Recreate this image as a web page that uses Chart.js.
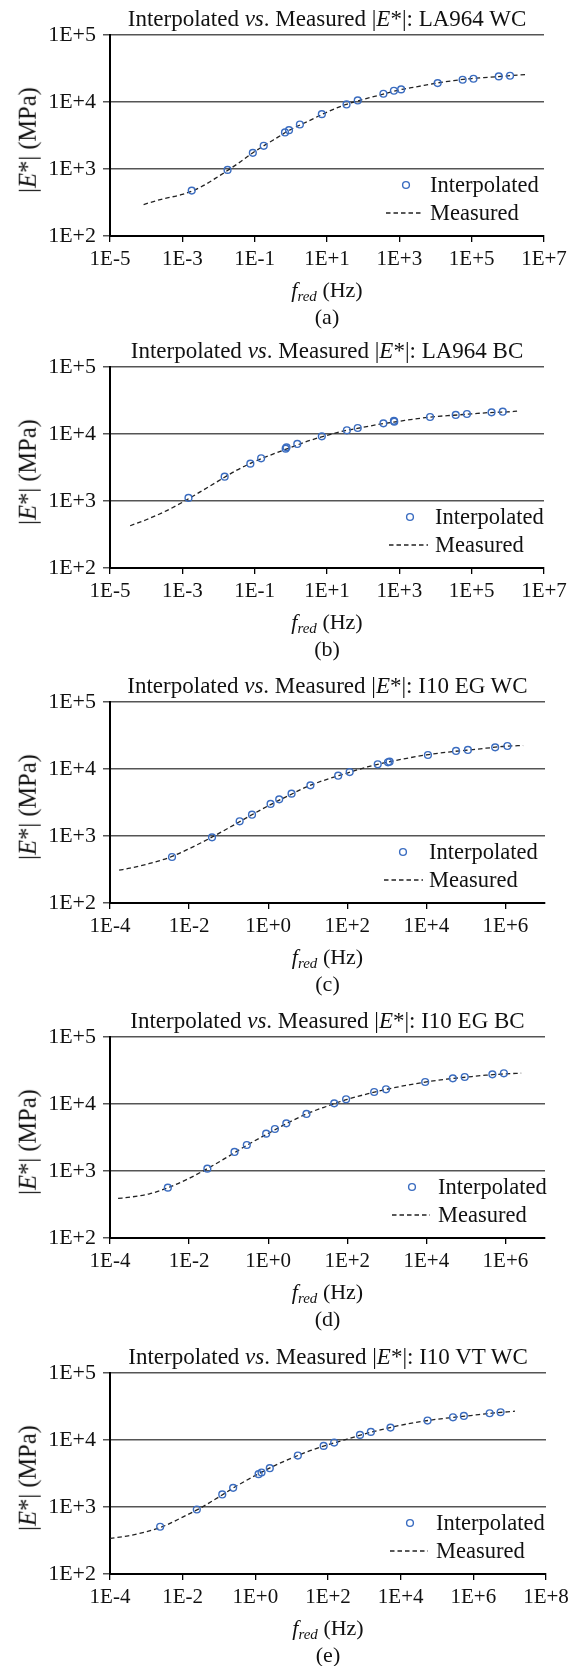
<!DOCTYPE html>
<html>
<head>
<meta charset="utf-8">
<script src="https://cdn.jsdelivr.net/npm/chart.js@4.4.0/dist/chart.umd.min.js"></script>
<style>
  body { margin: 0; background: #fff; }
  #page { position: relative; width: 582px; height: 1666px; overflow: hidden;
          font-family: "Liberation Serif", "Times New Roman", serif; color: #111; }
  .panel { position: absolute; left: 0; width: 582px; height: 335px; }
  .panel canvas { position: absolute; left: 0; top: 0; }
  .txt { position: absolute; white-space: nowrap; font-size: 22px; line-height: 1; }
  .ttl { font-size: 23px; }
  .leg { font-size: 22.5px; }
  .ctr { transform: translate(-50%, -50%); }
  .lft { transform: translate(0, -50%); }
  .rot { transform: translate(-50%, -50%) rotate(-90deg); font-size: 24.5px; }
  .sub { font-size: 15px; font-style: italic; position: relative; top: 4px; }
  svg.mk { position: absolute; overflow: visible; }
</style>
</head>
<body>
<div id="page"></div>
<script>
// tick values shared by all five panels
var yTicks = [100, 1000, 10000, 100000];
var xTicksAB = [1e-5, 1e-3, 1e-1, 1e1, 1e3, 1e5, 1e7];
var xTicksCD = [1e-4, 1e-2, 1, 1e2, 1e4, 1e6];
var xTicksE = [1e-4, 1e-2, 1, 1e2, 1e4, 1e6, 1e8];

// (a) LA964 WC
var fA = [1.82e-3, 1.78e-2, 8.9e-2, 0.178, 0.69, 0.89, 1.78, 7.2, 34.7, 70.8, 363, 708, 1122, 11480, 56230, 112200, 562300, 1150000];
var eA = [476, 970, 1742, 2218, 3509, 3800, 4614, 6590, 9190, 10550, 13280, 14730, 15420, 19150, 21480, 22230, 24100, 24660];
var fMeasA = [8.5e-5, 3.2e-4, 1e-3, 3.2e-3, 1e-2, 3.2e-2, 0.1, 0.32, 1, 3.2, 10, 32, 100, 320, 1000, 3200, 1e4, 3.2e4, 1e5, 3.2e5, 1e6, 3e6];
var eMeasA = [295, 363, 417, 537, 776, 1175, 1820, 2690, 3890, 5250, 7080, 9120, 10960, 12880, 15140, 16980, 19050, 20890, 22390, 23440, 24550, 25700];

// (b) LA964 BC
var fB = [1.48e-3, 1.48e-2, 7.6e-2, 0.151, 0.72, 0.76, 1.51, 7.2, 35.5, 70.8, 363, 708, 724, 7080, 36300, 74100, 354800, 724400];
var eB = [1110, 2305, 3607, 4335, 6040, 6320, 7100, 9230, 11350, 12300, 14430, 15700, 15280, 17950, 19230, 19900, 21050, 21530];
var fMeasB = [3.6e-5, 1e-4, 3.2e-4, 1e-3, 3.2e-3, 1e-2, 3.2e-2, 0.1, 0.32, 1, 3.2, 10, 32, 100, 320, 1000, 3200, 1e4, 3.2e4, 1e5, 3.2e5, 1e6, 1.8e6];
var eMeasB = [427, 525, 692, 955, 1380, 1995, 2884, 3890, 5010, 6310, 7940, 9550, 11220, 12590, 14130, 15490, 16980, 18200, 19050, 19950, 20890, 21380, 21880];

// (c) I10 EG WC
var fC = [3.7e-3, 3.8e-2, 0.19, 0.39, 1.15, 1.9, 3.9, 11.7, 58.9, 115, 589, 1072, 1175, 10960, 56230, 112200, 549500, 1120000];
var eC = [486, 955, 1656, 2080, 3006, 3525, 4285, 5700, 7940, 9010, 11750, 12590, 12880, 16180, 18580, 19230, 21050, 22030];
var fMeasC = [1.7e-4, 3.2e-4, 1e-3, 3.2e-3, 1e-2, 3.2e-2, 0.1, 0.32, 1, 3.2, 10, 32, 100, 320, 1000, 3200, 1e4, 3.2e4, 1e5, 3.2e5, 1e6, 2.8e6];
var eMeasC = [309, 331, 389, 479, 646, 912, 1318, 1950, 2818, 3981, 5495, 7080, 8710, 10720, 12590, 14450, 16220, 17780, 19050, 20420, 21880, 22390];

// (d) I10 EG BC
var fD = [2.9e-3, 2.9e-2, 0.141, 0.288, 0.89, 1.48, 2.88, 9.3, 46.8, 93.3, 479, 955, 9330, 46770, 93330, 467700, 912000];
var eD = [564, 1084, 1923, 2443, 3607, 4238, 5140, 7100, 10230, 11750, 15100, 16560, 21290, 24150, 25280, 27720, 28710];
var fMeasD = [1.6e-4, 3.2e-4, 1e-3, 3.2e-3, 1e-2, 3.2e-2, 0.1, 0.32, 1, 3.2, 10, 32, 100, 320, 1000, 3200, 1e4, 3.2e4, 1e5, 3.2e5, 1e6, 2.5e6];
var eMeasD = [389, 407, 457, 575, 776, 1122, 1660, 2512, 3631, 5250, 7244, 9333, 11750, 14130, 16600, 19050, 21380, 23440, 25120, 26920, 28180, 28840];

// (e) I10 VT WC
var fE = [2.4e-3, 2.45e-2, 0.123, 0.245, 1.23, 1.48, 2.5, 14.8, 75.9, 148, 759, 1514, 5250, 54950, 275400, 549500, 2820000, 5620000];
var eE = [507, 918, 1538, 1932, 3090, 3272, 3795, 5860, 8170, 9160, 11910, 13210, 15310, 19500, 21830, 22860, 25060, 25950];
var fMeasE = [1e-4, 3.2e-4, 1e-3, 3.2e-3, 1e-2, 3.2e-2, 0.1, 0.32, 1, 3.2, 10, 32, 100, 320, 1000, 3200, 1e4, 3.2e4, 1e5, 3.2e5, 1e6, 3.2e6, 1.4e7];
var eMeasE = [339, 372, 427, 525, 708, 977, 1413, 2089, 2951, 4074, 5370, 6918, 8511, 10230, 12300, 14450, 16600, 18620, 20420, 21880, 23440, 25120, 26920];

var panels = [
  { name: "LA964 WC", tag: "(a)", f: fA, e: eA, fm: fMeasA, em: eMeasA, xt: xTicksAB, xmin: 1e-5, xmax: 1e7 },
  { name: "LA964 BC", tag: "(b)", f: fB, e: eB, fm: fMeasB, em: eMeasB, xt: xTicksAB, xmin: 1e-5, xmax: 1e7 },
  { name: "I10 EG WC", tag: "(c)", f: fC, e: eC, fm: fMeasC, em: eMeasC, xt: xTicksCD, xmin: 1e-4, xmax: 1e7 },
  { name: "I10 EG BC", tag: "(d)", f: fD, e: eD, fm: fMeasD, em: eMeasD, xt: xTicksCD, xmin: 1e-4, xmax: 1e7 },
  { name: "I10 VT WC", tag: "(e)", f: fE, e: eE, fm: fMeasE, em: eMeasE, xt: xTicksE, xmin: 1e-4, xmax: 1e8 }
];

// layout: panel offsets, right padding and legend x positions
var tops = [0, 332, 667, 1002, 1338];
var padRight = [38, 38, 37, 37, 36];
var legX = [
  { mk: 406, tx: 430, l1: 386, l2: 423 },
  { mk: 410, tx: 435, l1: 389, l2: 428 },
  { mk: 403, tx: 429, l1: 384, l2: 423 },
  { mk: 412, tx: 438, l1: 392, l2: 430 },
  { mk: 410, tx: 436, l1: 390, l2: 428 }
];

var PT = 35, PH = 201, PL = 110, W = 582, H = 335;
var blue = "#3a6cc0";

function pow10Label(v) {
  var p = Math.round(Math.log10(v));
  return "1E" + (p < 0 ? "-" : "+") + Math.abs(p);
}

function toPoints(xs, ys) {
  return xs.map(function(x, i) { return { x: x, y: ys[i] }; });
}

function addText(parent, html, cls, x, y) {
  var d = document.createElement("div");
  d.className = "txt " + cls;
  d.style.left = x + "px";
  d.style.top = y + "px";
  d.innerHTML = html;
  parent.appendChild(d);
  return d;
}

var page = document.getElementById("page");

panels.forEach(function(p, k) {
  var box = document.createElement("div");
  box.className = "panel";
  box.style.top = tops[k] + "px";
  page.appendChild(box);

  var cv = document.createElement("canvas");
  cv.width = W;
  cv.height = H;
  box.appendChild(cv);

  var plotRight = W - padRight[k];
  var cx = (PL + plotRight) / 2;

  addText(box, "Interpolated <i>vs</i>. Measured |<i>E</i>*|: " + p.name, "ttl ctr", cx, PT - 17);
  addText(box, "|<i>E</i>*| (MPa)", "rot", 28, PT + 105);
  addText(box, "<i>f</i><span class=\"sub\">red</span> (Hz)", "ctr", cx, PT + 255);
  addText(box, p.tag, "ctr", cx, PT + 282);

  // legend
  var lg = legX[k];
  var s1 = document.createElementNS("http://www.w3.org/2000/svg", "svg");
  s1.setAttribute("class", "mk");
  s1.setAttribute("width", "10");
  s1.setAttribute("height", "10");
  s1.style.left = (lg.mk - 5) + "px";
  s1.style.top = (PT + 150 - 5) + "px";
  s1.innerHTML = '<circle cx="5" cy="5" r="3.4" fill="none" stroke="' + blue + '" stroke-width="1.4"/>';
  box.appendChild(s1);
  addText(box, "Interpolated", "leg lft", lg.tx, PT + 150);

  var s2 = document.createElementNS("http://www.w3.org/2000/svg", "svg");
  s2.setAttribute("class", "mk");
  s2.setAttribute("width", String(lg.l2 - lg.l1));
  s2.setAttribute("height", "4");
  s2.style.left = lg.l1 + "px";
  s2.style.top = (PT + 178 - 2) + "px";
  s2.innerHTML = '<line x1="0" y1="2" x2="' + (lg.l2 - lg.l1) + '" y2="2" stroke="#222" stroke-width="1.3" stroke-dasharray="4.5,3"/>';
  box.appendChild(s2);
  addText(box, "Measured", "leg lft", lg.tx, PT + 178);

  new Chart(cv.getContext("2d"), {
    type: "scatter",
    data: {
      datasets: [
        {
          label: "Interpolated",
          data: toPoints(p.f, p.e),
          showLine: false,
          pointRadius: 3.4,
          pointBorderWidth: 1.4,
          pointBorderColor: blue,
          pointBackgroundColor: "rgba(255,255,255,0)",
          order: 0
        },
        {
          label: "Measured",
          data: toPoints(p.fm, p.em),
          showLine: true,
          borderColor: "#222",
          borderWidth: 1.3,
          borderDash: [4.5, 3],
          pointRadius: 0,
          cubicInterpolationMode: "monotone",
          order: 1
        }
      ]
    },
    options: {
      responsive: false,
      animation: false,
      devicePixelRatio: 1,
      layout: { padding: { left: 0, top: PT, right: padRight[k], bottom: 0 } },
      plugins: { legend: { display: false }, title: { display: false }, tooltip: { enabled: false } },
      scales: {
        x: {
          type: "logarithmic",
          min: p.xmin,
          max: p.xmax,
          afterBuildTicks: function(scale) {
            scale.ticks = p.xt.map(function(v) { return { value: v }; });
          },
          afterFit: function(scale) { scale.height = H - PT - PH; },
          ticks: {
            autoSkip: false,
            maxRotation: 0,
            padding: 5,
            color: "#111",
            font: { family: "Liberation Serif", size: 21 },
            callback: function(v) { return pow10Label(v); }
          },
          grid: { drawOnChartArea: false, drawTicks: true, tickLength: 6, color: "#000", lineWidth: 1.3 },
          border: { display: true, color: "#000", width: 2 }
        },
        y: {
          type: "logarithmic",
          min: 100,
          max: 100000,
          afterBuildTicks: function(scale) {
            scale.ticks = yTicks.map(function(v) { return { value: v }; });
          },
          afterFit: function(scale) { scale.width = PL; },
          ticks: {
            autoSkip: false,
            padding: 7,
            color: "#111",
            font: { family: "Liberation Serif", size: 22 },
            callback: function(v) { return pow10Label(v); }
          },
          grid: { drawTicks: true, tickLength: 7, color: "#555", lineWidth: 1.5 },
          border: { display: true, color: "#000", width: 2 }
        }
      }
    }
  });
});
</script>
</body>
</html>
